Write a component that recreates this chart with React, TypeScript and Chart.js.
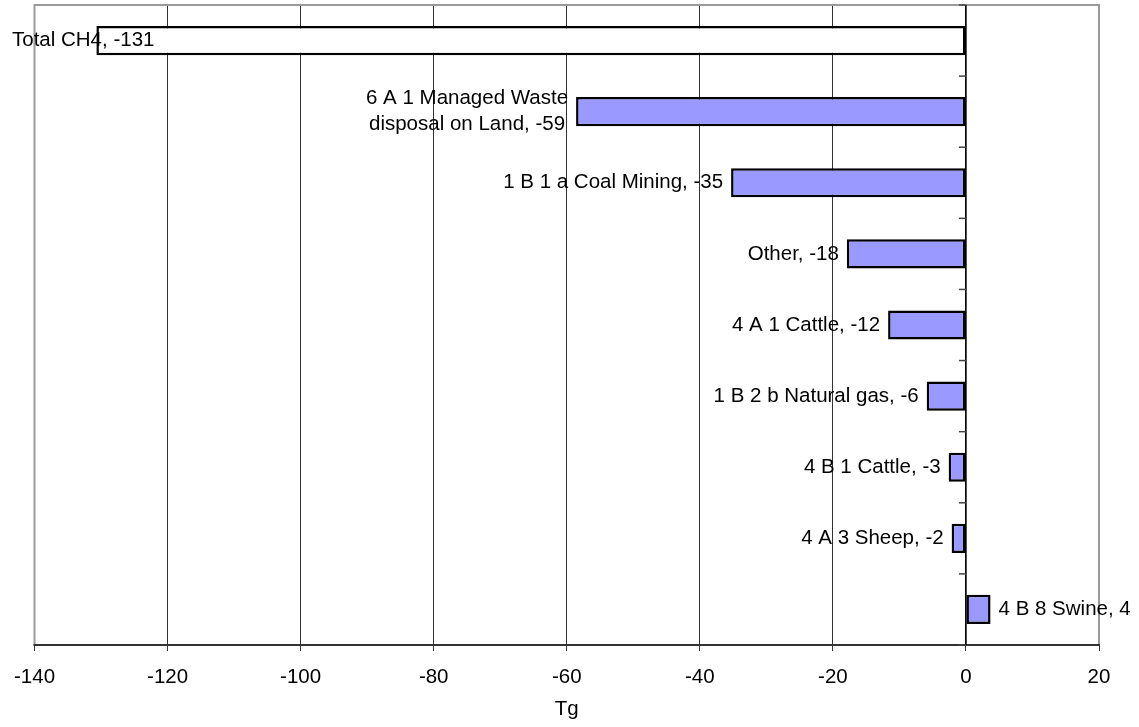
import React, { useEffect, useRef } from "react";
import { Chart, registerables } from "chart.js";

Chart.register(...registerables);

const categories = [
  "Total CH4",
  "6 A 1 Managed Waste disposal on Land",
  "1 B 1 a Coal Mining",
  "Other",
  "4 A 1 Cattle",
  "1 B 2 b Natural gas",
  "4 B 1 Cattle",
  "4 A 3 Sheep",
  "4 B 8 Swine",
];
const values = [-130.7, -58.6, -35.3, -17.9, -11.7, -5.9, -2.6, -2.15, 3.7];
const displayValues = [-131, -59, -35, -18, -12, -6, -3, -2, 4];
const barColors = ["#FFFFFF", "#9999FF", "#9999FF", "#9999FF", "#9999FF", "#9999FF", "#9999FF", "#9999FF", "#9999FF"];
const xTicks = [-140, -120, -100, -80, -60, -40, -20, 0, 20];
const xTitle = "Tg";

const FONT = '"Liberation Sans", Arial, sans-serif';
const FS = 20.5;

function wrap(ctx: CanvasRenderingContext2D, text: string, maxW: number): string[] {
  const words = text.split(" ");
  const lines: string[] = [];
  let cur = "";
  for (const w of words) {
    const t = cur ? cur + " " + w : w;
    if (ctx.measureText(t).width > maxW && cur) {
      lines.push(cur);
      cur = w;
    } else cur = t;
  }
  if (cur) lines.push(cur);
  return lines;
}

const decorPlugin = {
  id: "decor",
  beforeDatasetsDraw(chart: any) {
    const { ctx, chartArea } = chart;
    const { left, right, top, bottom } = chartArea;
    const xs = chart.scales.x;
    ctx.save();
    // frame
    ctx.strokeStyle = "#9a9a9a";
    ctx.lineWidth = 2;
    ctx.beginPath();
    ctx.moveTo(left, bottom);
    ctx.lineTo(left, top);
    ctx.lineTo(right, top);
    ctx.lineTo(right, bottom);
    ctx.stroke();
    ctx.strokeStyle = "#333";
    ctx.beginPath();
    ctx.moveTo(left - 1, bottom);
    ctx.lineTo(right + 1, bottom);
    ctx.stroke();
    // zero axis
    const x0 = xs.getPixelForValue(0);
    ctx.strokeStyle = "#000";
    ctx.lineWidth = 1.5;
    ctx.beginPath();
    ctx.moveTo(x0, top);
    ctx.lineTo(x0, bottom);
    ctx.stroke();
    // category boundary ticks
    ctx.strokeStyle = "#444";
    ctx.lineWidth = 1.5;
    const n = categories.length;
    const step = (bottom - top) / n;
    for (let i = 0; i <= n; i++) {
      const y = top + i * step;
      ctx.beginPath();
      ctx.moveTo(x0 - 7, y);
      ctx.lineTo(x0, y);
      ctx.stroke();
    }
    ctx.restore();
  },
  afterDatasetsDraw(chart: any) {
    const { ctx } = chart;
    const meta = chart.getDatasetMeta(0);
    ctx.save();
    ctx.font = `${FS}px ${FONT}`;
    ctx.fillStyle = "#000";
    ctx.textBaseline = "middle";
    ctx.textAlign = "center";
    const lh = 26;
    meta.data.forEach((bar: any, i: number) => {
      const text = `${categories[i]}, ${displayValues[i]}`;
      const lines = wrap(ctx, text, 250);
      const bw = Math.max(...lines.map((l) => ctx.measureText(l).width));
      let leftX: number;
      if (values[i] < 0) {
        leftX = bar.x - 8 - bw;
        if (leftX < 12) leftX = 12;
      } else {
        leftX = bar.x + 8;
      }
      const cx = leftX + bw / 2;
      const y0 = bar.y - ((lines.length - 1) * lh) / 2;
      lines.forEach((l, k) => ctx.fillText(l, cx, y0 + k * lh));
    });
    ctx.restore();
  },
};

export default function App() {
  const ref = useRef<HTMLCanvasElement>(null);
  useEffect(() => {
    document.body.style.margin = "0";
    const chart = new Chart(ref.current!, {
      type: "bar",
      data: {
        labels: categories,
        datasets: [
          {
            data: values,
            backgroundColor: barColors,
            borderColor: "#000",
            borderWidth: 2.5,
            borderSkipped: false,
            barPercentage: 0.41,
            categoryPercentage: 1,
          },
        ],
      },
      options: {
        indexAxis: "y",
        responsive: false,
        animation: false,
        layout: { padding: { left: 34, right: 40, top: 5, bottom: 0 } },
        plugins: { legend: { display: false }, tooltip: { enabled: false } },
        scales: {
          x: {
            type: "linear",
            min: -140,
            max: 20,
            afterBuildTicks: (s: any) => {
              s.ticks = xTicks.map((v) => ({ value: v }));
            },
            afterFit: (s: any) => {
              s.height = 82;
            },
            ticks: {
              color: "#000",
              font: { family: FONT, size: FS },
              padding: 14,
              maxRotation: 0,
              autoSkip: false,
            },
            grid: { color: "#333", lineWidth: 1, tickLength: 6, tickColor: "#333" },
            border: { display: false },
            title: {
              display: true,
              text: xTitle,
              color: "#000",
              font: { family: FONT, size: FS },
              padding: { top: 3, bottom: 5 },
            },
          },
          y: {
            type: "category",
            display: false,
          },
        },
      },
      plugins: [decorPlugin],
    } as any);
    return () => chart.destroy();
  }, []);
  return (
    <div style={{ position: "absolute", left: 0, top: 0, width: 1139, height: 727 }}>
      <canvas ref={ref} width={1139} height={727} />
    </div>
  );
}
